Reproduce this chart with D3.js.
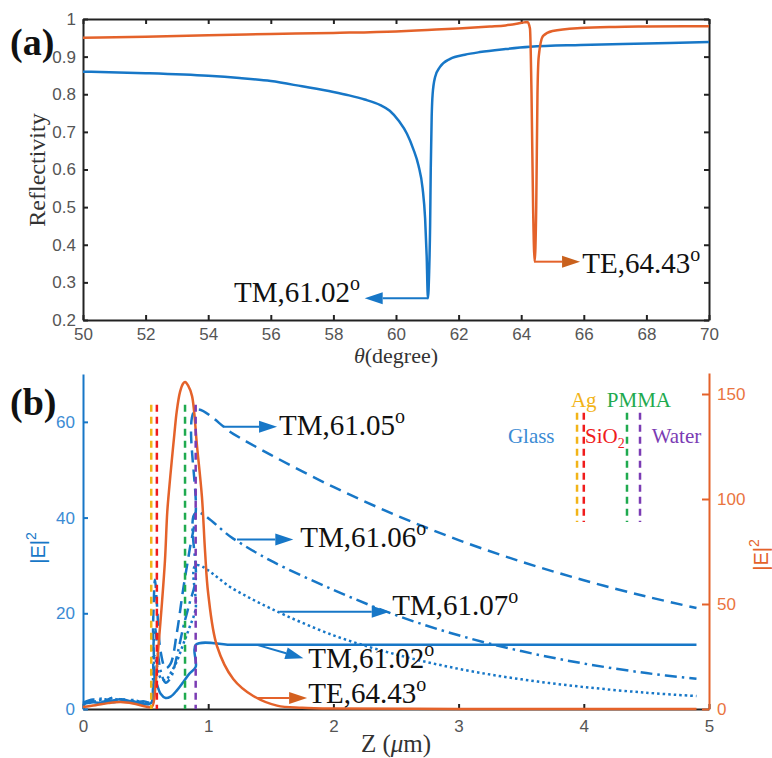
<!DOCTYPE html>
<html>
<head>
<meta charset="utf-8">
<script src="https://cdn.jsdelivr.net/npm/d3@7"></script>
<style>
  body { margin: 0; background: #fff; }
  svg { display: block; }
</style>
</head>
<body>
<div id="chart"></div>
<script>
// ---------- (a) reflectivity vs angle ----------
const thetaTicks = [50, 52, 54, 56, 58, 60, 62, 64, 66, 68, 70];
const rTicks = [0.2, 0.3, 0.4, 0.5, 0.6, 0.7, 0.8, 0.9, 1];

const tmTheta = [50, 52, 54, 55, 56, 57, 58, 58.5, 59, 59.5, 59.8, 60.1, 60.35, 60.55, 60.72, 60.85, 60.93, 60.98, 61.02,
                 61.06, 61.09, 61.11, 61.14, 61.17, 61.25, 61.4, 61.73, 62.2, 62.68, 63.5, 64.28, 65.9, 68, 70];
const tmR = [0.86, 0.856, 0.849, 0.843, 0.835, 0.821, 0.806, 0.797, 0.786, 0.771, 0.756, 0.728, 0.695, 0.655, 0.61, 0.55, 0.47, 0.37, 0.258,
             0.33, 0.45, 0.6, 0.74, 0.8, 0.846, 0.872, 0.894, 0.905, 0.912, 0.92, 0.926, 0.931, 0.935, 0.939];

const teTheta = [50, 52, 54, 56, 58, 60, 61, 62, 63, 63.5, 63.9, 64.1, 64.2, 64.28, 64.33, 64.38, 64.43,
                 64.48, 64.52, 64.56, 64.7, 65.0, 65.9, 67, 68, 70];
const teR = [0.950, 0.953, 0.957, 0.960, 0.963, 0.967, 0.971, 0.975, 0.980, 0.983, 0.988, 0.991, 0.992, 0.975, 0.80, 0.50, 0.355,
             0.50, 0.80, 0.90, 0.955, 0.968, 0.976, 0.979, 0.980, 0.981];

// ---------- (b) field intensity vs Z ----------
const zTicks = [0, 1, 2, 3, 4, 5];
const eLeftTicks = [0, 20, 40, 60];
const eRightTicks = [0, 50, 100, 150];

const zTE = [0, 0.1, 0.2, 0.3, 0.4, 0.5, 0.55, 0.58, 0.6, 0.63, 0.655, 0.673, 0.69, 0.708, 0.73, 0.748, 0.775, 0.8, 0.815,
             0.84, 0.871, 0.911, 0.95, 0.975, 1.0, 1.07, 1.2, 1.36, 1.55, 1.75, 2.0, 3.0, 4.0, 4.9];
const eTE = [1.0, 1.8, 2.8, 3.3, 2.6, 1.2, 1.0, 12, 28, 50, 71, 93.8, 106, 117.6, 131, 141.4, 151, 155, 155.7,
             154, 149, 125, 101, 75, 55, 30, 14.3, 6.2, 1.6, 0.6, 0.2, 0.05, 0, 0];

const zTM = [0, 0.08, 0.16, 0.24, 0.32, 0.4, 0.48, 0.545, 0.56, 0.575, 0.59, 0.62, 0.66, 0.7, 0.75, 0.8, 0.85, 0.9, 0.9,
             1.2, 1.5, 2.0, 2.5, 3.0, 3.5, 4.0, 4.5, 4.9];
const eTM02 = [1.0, 1.4, 1.2, 1.8, 2.0, 1.4, 1.0, 1.3, 4.5, 6.5, 5.2, 3.2, 2.3, 2.6, 3.9, 5.6, 7.4, 8.8, 13.4,
               13.4, 13.4, 13.4, 13.4, 13.4, 13.4, 13.4, 13.4, 13.4];
const eTM05 = [1.3, 2.0, 1.5, 2.4, 1.8, 1.4, 1.6, 1.5, 18, 27, 22, 12, 8.5, 9.5, 16, 25, 33, 41, 62.5,
               57.5, 53.1, 46.4, 40.5, 35.3, 30.8, 26.9, 23.5, 21.1];
const eTM06 = [1.1, 1.7, 2.2, 1.4, 2.0, 1.6, 1.2, 1.4, 12, 17, 14, 8, 5.5, 6.5, 11, 17, 22, 27, 41,
               35.6, 31, 24.9, 19.6, 15.4, 12.1, 9.5, 7.5, 6.3];
const eTM07 = [0.9, 1.5, 1.9, 2.2, 1.5, 1.9, 1.3, 1.2, 8, 11, 9, 6.5, 6, 7.5, 10, 13.5, 17, 21, 30,
               25.1, 21.0, 15.4, 11.4, 8.4, 6.2, 4.6, 3.4, 2.7];

// layer boundaries (Z, um) and their colours
const layerNames = ["Ag", "SiO2", "PMMA", "Water"];
const layerZ = [0.545, 0.59, 0.815, 0.9];
const layerTop = 63.6;

const blue = "#1777c7", orange = "#e4622a";
const layerColors = ["#f2b418", "#f01c1c", "#1faa4f", "#7b3cb4"];
const sans = "'Liberation Sans', Arial, sans-serif";
const serif = "'Liberation Serif', 'Times New Roman', serif";
const fmt = d3.format("~g");

const svg = d3.select("#chart").append("svg")
  .attr("width", 772).attr("height", 758)
  .style("font-family", serif);

function styleAxis(g, lineColor, textColor, size) {
  g.attr("font-family", sans).attr("font-size", size);
  g.select(".domain").attr("stroke", lineColor).attr("stroke-width", 2);
  g.selectAll(".tick line").attr("stroke", lineColor).attr("stroke-width", 2);
  g.selectAll(".tick text").attr("fill", textColor);
}

function arrow(g, x1, y1, x2, y2, color, head) {
  const a = Math.atan2(y2 - y1, x2 - x1), L = 18, W = 6;
  const bx = x2 - L * Math.cos(a), by = y2 - L * Math.sin(a);
  g.append("line").attr("x1", x1).attr("y1", y1).attr("x2", bx).attr("y2", by)
    .attr("stroke", color).attr("stroke-width", 2);
  g.append("path")
    .attr("d", `M${x2},${y2}L${bx - W * Math.sin(a)},${by + W * Math.cos(a)}L${bx + W * Math.sin(a)},${by - W * Math.cos(a)}Z`)
    .attr("fill", head);
}

function degLabel(g, x, y, txt, anchor) {
  const t = g.append("text").attr("x", x).attr("y", y).attr("text-anchor", anchor)
    .attr("fill", "#111").style("font-size", "29px");
  t.append("tspan").text(txt);
  t.append("tspan").attr("dy", -12).style("font-size", "20px").text("o");
}

// ================= panel (a) =================
const xA = d3.scaleLinear().domain([50, 70]).range([83, 709]);
const yA = d3.scaleLinear().domain([0.2, 1]).range([320, 19]);

const gA = svg.append("g");

gA.append("g").attr("transform", "translate(0,320)")
  .call(d3.axisBottom(xA).tickValues(thetaTicks).tickSize(-5).tickSizeOuter(0).tickPadding(8))
  .call(g => styleAxis(g, "#222", "#555", 17));
gA.append("g").attr("transform", "translate(83,0)")
  .call(d3.axisLeft(yA).tickValues(rTicks).tickFormat(fmt).tickSize(-5).tickSizeOuter(0).tickPadding(7))
  .call(g => styleAxis(g, "#222", "#555", 17));
gA.append("g").attr("transform", "translate(0,19)")
  .call(d3.axisTop(xA).tickValues(thetaTicks).tickFormat("").tickSize(-5).tickSizeOuter(0))
  .call(g => styleAxis(g, "#222", "#555", 17));
gA.append("g").attr("transform", "translate(709,0)")
  .call(d3.axisRight(yA).tickValues(rTicks).tickFormat("").tickSize(-5).tickSizeOuter(0))
  .call(g => styleAxis(g, "#222", "#555", 17));

const lineA = d3.line().x(d => xA(d[0])).y(d => yA(d[1])).curve(d3.curveMonotoneX);

gA.append("path").datum(d3.zip(tmTheta, tmR)).attr("d", lineA)
  .attr("fill", "none").attr("stroke", blue).attr("stroke-width", 2.5);
gA.append("path").datum(d3.zip(teTheta, teR)).attr("d", lineA)
  .attr("fill", "none").attr("stroke", orange).attr("stroke-width", 2.5);

// annotations
arrow(gA, xA(61.02), yA(0.258), xA(59.0), yA(0.258), blue, blue);
degLabel(gA, xA(58.85), yA(0.247), "TM,61.02", "end");
arrow(gA, xA(64.43), yA(0.355), xA(65.88), yA(0.355), orange, "#c9611d");
degLabel(gA, xA(65.95), yA(0.325), "TE,64.43", "start");

// titles
gA.append("text")
  .attr("transform", "translate(45,170) rotate(-90)")
  .attr("text-anchor", "middle").attr("fill", "#333")
  .style("font-size", "24px").text("Reflectivity");
const tA = gA.append("text").attr("x", 396).attr("y", 363)
  .attr("text-anchor", "middle").attr("fill", "#333").style("font-size", "22px");
tA.append("tspan").style("font-style", "italic").text("θ");
tA.append("tspan").text("(degree)");

svg.append("text").attr("x", 10).attr("y", 55)
  .style("font-size", "38px").style("font-weight", "bold").attr("fill", "#111").text("(a)");

// ================= panel (b) =================
const xB = d3.scaleLinear().domain([0, 5]).range([83, 709]);
const yL = d3.scaleLinear().domain([0, 70]).range([709, 374]);
const yR = d3.scaleLinear().domain([0, 160]).range([709, 373]);

const gB = svg.append("g");

gB.append("g").attr("transform", "translate(0,709)")
  .call(d3.axisBottom(xB).tickValues(zTicks).tickFormat(fmt).tickSize(-5).tickSizeOuter(0).tickPadding(11))
  .call(g => styleAxis(g, "#222", "#555", 17));
gB.append("g").attr("transform", "translate(83,0)")
  .call(d3.axisLeft(yL).tickValues(eLeftTicks).tickSize(-5).tickSizeOuter(0).tickPadding(8))
  .call(g => styleAxis(g, blue, "#3b8bd4", 17));
gB.append("g").attr("transform", "translate(709,0)")
  .call(d3.axisRight(yR).tickValues(eRightTicks).tickSize(-7).tickSizeOuter(0).tickPadding(8))
  .call(g => styleAxis(g, orange, "#ea7440", 17));

const lineL = d3.line().x(d => xB(d[0])).y(d => yL(d[1])).curve(d3.curveCatmullRom.alpha(0.5));
const lineR = d3.line().x(d => xB(d[0])).y(d => yR(d[1])).curve(d3.curveCatmullRom.alpha(0.5));

const tmSeries = [
  { v: eTM05, dash: "12,7" },
  { v: eTM06, dash: "12,5,2.5,5" },
  { v: eTM07, dash: "2.5,3" },
  { v: eTM02, dash: null }
];
tmSeries.forEach(s => {
  gB.append("path").datum(d3.zip(zTM, s.v)).attr("d", lineL)
    .attr("fill", "none").attr("stroke", blue).attr("stroke-width", 2.5)
    .attr("stroke-dasharray", s.dash);
});

gB.append("path").datum(d3.zip(zTE, eTE)).attr("d", lineR)
  .attr("fill", "none").attr("stroke", orange).attr("stroke-width", 2.5);

// layer boundaries
gB.selectAll(".layer").data(layerZ).enter().append("line")
  .attr("class", "layer")
  .attr("x1", d => xB(d)).attr("x2", d => xB(d))
  .attr("y1", yL(layerTop)).attr("y2", yL(0))
  .attr("stroke", (d, i) => layerColors[i]).attr("stroke-width", 2.5)
  .attr("stroke-dasharray", "7,5");

// small layer key
const keyZ = [3.946, 4.0, 4.345, 4.449];
gB.selectAll(".key").data(keyZ).enter().append("line")
  .attr("class", "key")
  .attr("x1", d => xB(d)).attr("x2", d => xB(d))
  .attr("y1", yL(61.9)).attr("y2", yL(39.1))
  .attr("stroke", (d, i) => layerColors[i]).attr("stroke-width", 2.5)
  .attr("stroke-dasharray", "7,5");

const keyText = (x, y, color, txt, anchor) =>
  gB.append("text").attr("x", xB(x)).attr("y", yL(y)).attr("text-anchor", anchor || "middle")
    .attr("fill", color).style("font-size", "21px").text(txt);
keyText(4.0, 63.2, layerColors[0], "Ag");
keyText(4.44, 63.2, layerColors[2], "PMMA");
keyText(3.58, 55.6, "#3b8bd4", "Glass");
keyText(4.74, 55.6, layerColors[3], "Water");
const sio2 = keyText(4.01, 55.6, layerColors[1], "SiO", "start");
sio2.append("tspan").attr("dy", 5).style("font-size", "14px").text("2");

// annotations
arrow(gB, xB(1.12), yL(59), xB(1.55), yL(59), blue, blue);
degLabel(gB, xB(1.565), yL(57.3), "TM,61.05", "start");
arrow(gB, xB(1.23), yL(35.4), xB(1.68), yL(35.4), blue, blue);
degLabel(gB, xB(1.735), yL(33.9), "TM,61.06", "start");
arrow(gB, xB(1.57), yL(20.3), xB(2.45), yL(20.3), blue, blue);
degLabel(gB, xB(2.47), yL(19.7), "TM,61.07", "start");
arrow(gB, xB(1.39), yL(13.4), xB(1.76), yL(10.6), blue, blue);
degLabel(gB, xB(1.8), yL(8.6), "TM,61.02", "start");
arrow(gB, xB(1.39), yL(2.3), xB(1.79), yL(2.3), orange, "#d4601f");
degLabel(gB, xB(1.8), yL(1.25), "TE,64.43", "start");

// axis titles
const tB = gB.append("text").attr("x", 396).attr("y", 752)
  .attr("text-anchor", "middle").attr("fill", "#333").style("font-size", "25px");
tB.append("tspan").text("Z (");
tB.append("tspan").style("font-style", "italic").text("μ");
tB.append("tspan").text("m)");

const eLabel = (x, y, color) => {
  const t = gB.append("text").attr("transform", `translate(${x},${y}) rotate(-90)`)
    .attr("text-anchor", "middle").attr("fill", color)
    .style("font-family", sans).style("font-size", "20px");
  t.append("tspan").text("|E|");
  t.append("tspan").attr("dy", -9).style("font-size", "14px").text("2");
};
eLabel(45, 548, blue);
eLabel(768, 555, orange);

svg.append("text").attr("x", 10).attr("y", 415)
  .style("font-size", "38px").style("font-weight", "bold").attr("fill", "#111").text("(b)");
</script>
</body>
</html>
